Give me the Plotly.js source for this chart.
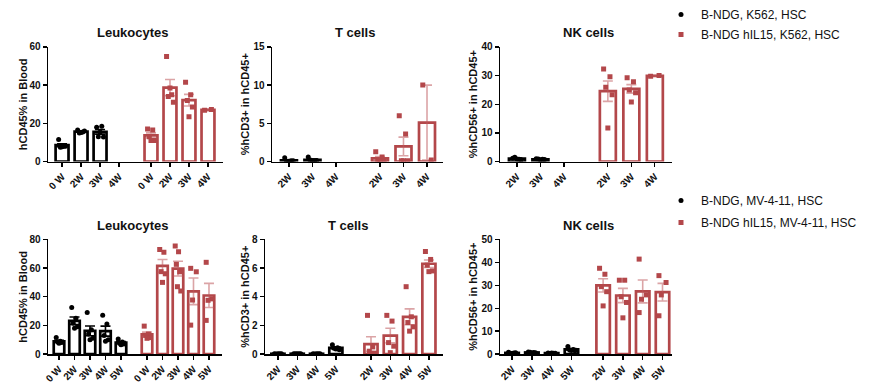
<!DOCTYPE html>
<html><head><meta charset="utf-8">
<script src="https://cdn.plot.ly/plotly-3.0.1.min.js"></script>
<style>html,body{margin:0;padding:0;background:#fff}#chart{width:872px;height:384px}</style>
</head><body><div id="chart"></div>
<script>
// ---- Top row: K562 model ----
const weeksLeukK562 = ['0 W','2W','3W','4W'];
const leukK562Ctrl = [[11.5,8,7.5,8,7.8],[16.5,15.5,15,16,15.2],[18,18.5,13,12.8,15.5],[]];
const leukK562IL15 = [[17,16.5,13,11,11],[55,35,34,31,38.5],[41.5,35,32,28.5,23.5],[26.8,27.3]];
const weeksTK562 = ['2W','3W','4W'];
const tK562Ctrl = [[0.5,0.1,0.05,0.1,0.05],[0.6,0.1,0.2,0.15,0.1],[]];
const tK562IL15 = [[1.3,0.6,0.05,0.05,0.05],[6.0,3.6,0.1,0.1,0.1],[10,0.2]];
const weeksNKK562 = ['2W','3W','4W'];
const nkK562Ctrl = [[1.2,0.8,1.5,0.6,0.9],[1.0,0.8,0.9,0.7,0.6],[]];
const nkK562IL15 = [[32.3,29.6,25.9,23.3,11.7],[29.2,27.8,25,24,20.8],[29.8,30]];
// ---- Bottom row: MV-4-11 model ----
const weeksLeukMV = ['0 W','2W','3W','4W','5W'];
const leukMVCtrl = [[11.5,9,8.5,8,7.5],[32.5,25,21.5,19,18],[29,17,14,11,10],[27,21,13,10,9],[10.5,8.5,7.5,7,6.5]];
const leukMVIL15 = [[19.5,14,13,11.5,11],[73,71,57.5,56,50],[75.3,71.4,62.6,57.4,47,44],[59.8,57.4,37.7,20.2],[64,38.5,37.5,23.5]];
const weeksTMV = ['2W','3W','4W','5W'];
const tMVCtrl = [[0.03,0.02,0.01,0.02,0.03],[0.03,0.02,0.02,0.03,0.02],[0.02,0.03,0.01,0.02,0.02],[0.65,0.45,0.4,0.3,0.35]];
const tMVIL15 = [[2.7,0.5,0.2,0.05,0.05],[2.7,2.3,0.8,0.55,0.1],[4.7,2.6,2.2,1.9,1.6],[7.15,6.6,6.2,5.8,5.75]];
const weeksNKMV = ['2W','3W','4W','5W'];
const nkMVCtrl = [[0.8,0.5,0.4,0.6,0.3],[0.9,0.7,0.8,0.6,0.5],[0.5,0.4,0.3,0.4,0.5],[3.3,2,1.8,1.5,1.6]];
const nkMVIL15 = [[37.4,34.8,29.4,27.2,21],[32.2,32.2,25,22.5,15.8],[41.4,25.8,23.9,18.1],[34.2,31.2,25.8,16.7]];

const groupNamesK562 = ['B-NDG, K562, HSC','B-NDG hIL15, K562, HSC'];
const groupNamesMV = ['B-NDG, MV-4-11, HSC','B-NDG hIL15, MV-4-11, HSC'];
const panelTitles = ['Leukocytes','T cells','NK cells'];
const yTitles = ['hCD45% in Blood','%hCD3+ in hCD45+','%hCD56+ in hCD45+'];

// ---- styling / layout ----
const W = 872, H = 384;
const FONT = 'Liberation Sans, Arial, Helvetica, sans-serif';
const BLACK = '#000000', RED = '#b3474a';
const ERR = ['#000000', 'rgba(190,90,92,0.55)'];
const COLORS = [BLACK, RED];
const SYMBOLS = ['circle', 'square'];

const panels = [
  {cats: weeksLeukK562, data: [leukK562Ctrl, leukK562IL15], names: groupNamesK562, title: panelTitles[0], ytitle: yTitles[0],
   px: [48, 223], py: [46, 161], ymax: 60, dtick: 20, range: [-0.74, 8.47], redStart: 4.68, legend: 'legend', titlePos: [133, 32], yTitleX: 23},
  {cats: weeksTK562, data: [tK562Ctrl, tK562IL15], names: groupNamesK562, title: panelTitles[1], ytitle: yTitles[1],
   px: [272, 443], py: [46, 161], ymax: 15, dtick: 5, range: [-0.72, 6.55], redStart: 3.87, legend: 'legend', titlePos: [355, 32], yTitleX: 245},
  {cats: weeksNKK562, data: [nkK562Ctrl, nkK562IL15], names: groupNamesK562, title: panelTitles[2], ytitle: yTitles[2],
   px: [500, 672], py: [46, 161], ymax: 40, dtick: 10, range: [-0.72, 6.6], redStart: 3.87, legend: 'legend', titlePos: [588, 32], yTitleX: 473},
  {cats: weeksLeukMV, data: [leukMVCtrl, leukMVIL15], names: groupNamesMV, title: panelTitles[0], ytitle: yTitles[0],
   px: [48, 222], py: [239, 354], ymax: 80, dtick: 20, range: [-0.71, 10.52], redStart: 5.68, legend: 'legend2', titlePos: [133, 225], yTitleX: 23},
  {cats: weeksTMV, data: [tMVCtrl, tMVIL15], names: groupNamesMV, title: panelTitles[1], ytitle: yTitles[1],
   px: [265, 443], py: [239, 354], ymax: 8, dtick: 2, range: [-0.67, 8.55], redStart: 4.82, legend: 'legend2', titlePos: [348, 225], yTitleX: 245},
  {cats: weeksNKMV, data: [nkMVCtrl, nkMVIL15], names: groupNamesMV, title: panelTitles[2], ytitle: yTitles[2],
   px: [500, 672], py: [239, 354], ymax: 50, dtick: 10, range: [-0.61, 8.08], redStart: 4.6, legend: 'legend2', titlePos: [588, 225], yTitleX: 473}
];

function mean(a) { return a.reduce((s, v) => s + v, 0) / a.length; }
function sem(a) {
  if (a.length < 2) return 0;
  const m = mean(a);
  const v = a.reduce((s, x) => s + (x - m) * (x - m), 0) / (a.length - 1);
  return Math.sqrt(v / a.length);
}
function jitter(j, n) {
  if (n === 1) return 0;
  const order = [0, 3, 1, 4, 2, 5];
  const k = order[j % order.length] % n;
  return -0.18 + 0.36 * k / (n - 1);
}

const traces = [];
const annotations = [];
const layout = {
  width: W, height: H, margin: {l: 0, r: 0, t: 0, b: 0},
  paper_bgcolor: '#fff', plot_bgcolor: 'rgba(0,0,0,0)',
  barmode: 'overlay', showlegend: true,
  font: {family: FONT, color: '#111'},
  legend: {x: 661 / W, xanchor: 'left', y: 1 + 1 / H, yanchor: 'top', font: {family: FONT, size: 12, color: '#111'},
           bgcolor: 'rgba(0,0,0,0)', tracegroupgap: 1, itemwidth: 30},
  legend2: {x: 661 / W, xanchor: 'left', y: 1 - 186 / H, yanchor: 'top', font: {family: FONT, size: 12, color: '#111'},
            bgcolor: 'rgba(0,0,0,0)', tracegroupgap: 3, itemwidth: 30},
  annotations: annotations
};

const legendShown = {};
panels.forEach((p, i) => {
  const xa = 'x' + (i + 1), ya = 'y' + (i + 1);
  const xKey = 'xaxis' + (i + 1), yKey = 'yaxis' + (i + 1);
  const tickvals = [], ticktext = [];
  const bars = [];
  const scats = [];
  p.data.forEach((grp, g) => {
    const start = g === 0 ? 0 : p.redStart;
    const bx = [], by = [], be = [], sx = [], sy = [];
    p.cats.forEach((c, k) => {
      const pos = start + k;
      tickvals.push(pos); ticktext.push(c);
      const pts = grp[k];
      if (!pts || pts.length === 0) return;
      bx.push(pos); by.push(mean(pts)); be.push(sem(pts));
      pts.forEach((v, j) => { sx.push(pos + jitter(j, pts.length)); sy.push(v); });
    });
    bars.push({
      type: 'bar', x: bx, y: by, xaxis: xa, yaxis: ya, width: 0.68,
      marker: {color: 'rgba(255,255,255,1)', line: {color: COLORS[g], width: 2.7}},
      error_y: {type: 'data', array: be, visible: true, color: ERR[g], thickness: 1.6, width: 5},
      showlegend: false, hoverinfo: 'skip'
    });
    const key = p.legend + g;
    const show = !legendShown[key];
    legendShown[key] = true;
    scats.push({
      type: 'scatter', mode: 'markers', x: sx, y: sy, xaxis: xa, yaxis: ya,
      name: p.names[g], legend: p.legend, legendgroup: p.legend + g, showlegend: show,
      marker: {symbol: SYMBOLS[g], size: 5, color: COLORS[g], line: {width: 0}},
      hoverinfo: 'y'
    });
  });
  bars.forEach(t => traces.push(t));
  scats.forEach(t => traces.push(t));

  layout[xKey] = {
    domain: [p.px[0] / W, p.px[1] / W], range: p.range, anchor: ya,
    tickmode: 'array', tickvals: tickvals, ticktext: ticktext, tickangle: -45,
    ticks: 'outside', ticklen: 4, tickwidth: 1.3, tickcolor: '#000',
    showline: true, linecolor: '#000', linewidth: 1.5, showgrid: false, zeroline: false,
    tickfont: {family: FONT, size: 10, weight: 'bold', color: '#111'}, fixedrange: true
  };
  layout[yKey] = {
    domain: [1 - p.py[1] / H, 1 - p.py[0] / H], range: [0, p.ymax], anchor: xa,
    tickmode: 'linear', tick0: 0, dtick: p.dtick,
    ticks: 'outside', ticklen: 4, tickwidth: 1.3, tickcolor: '#000',
    showline: true, linecolor: '#000', linewidth: 1.5, showgrid: false, zeroline: false,
    tickfont: {family: FONT, size: 10, weight: 'bold', color: '#111'},
    fixedrange: true
  };
  // panel title
  annotations.push({
    xref: 'paper', yref: 'paper', x: p.titlePos[0] / W, y: 1 - p.titlePos[1] / H,
    xanchor: 'center', yanchor: 'middle', showarrow: false,
    text: p.title, font: {family: FONT, size: 13, weight: 'bold', color: '#111'}
  });
  // y-axis title (rotated)
  annotations.push({
    xref: 'paper', yref: 'paper', x: p.yTitleX / W, y: 1 - ((p.py[0] + p.py[1]) / 2) / H,
    xanchor: 'center', yanchor: 'middle', showarrow: false, textangle: -90,
    text: p.ytitle, font: {family: FONT, size: 11, weight: 'bold', color: '#111'}
  });
});

Plotly.newPlot('chart', traces, layout, {displayModeBar: false, staticPlot: true});
</script>
</body></html>
